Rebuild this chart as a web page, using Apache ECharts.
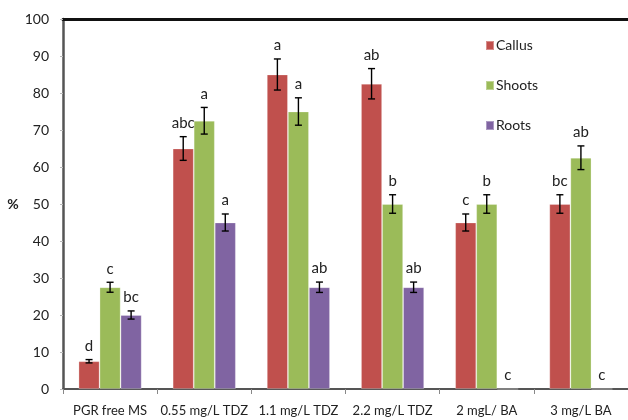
<!DOCTYPE html>
<html>
<head>
<meta charset="utf-8">
<script src="https://cdn.jsdelivr.net/npm/echarts@6/dist/echarts.min.js"></script>
<style>
  html, body { margin: 0; padding: 0; background: #fff; }
  #chart { width: 628px; height: 420px; }
</style>
</head>
<body>
<div id="chart"></div>
<script>
// Treatments on the category axis
const categories = ['PGR free MS', '0.55 mg/L TDZ', '1.1 mg/L TDZ', '2.2 mg/L TDZ', '2 mgL/ BA', '3 mg/L BA'];

// Mean response (%) per organ
const callus = [7.5, 65, 85, 82.5, 45, 50];
const shoots = [27.5, 72.5, 75, 50, 50, 62.5];
const roots  = [20, 45, 27.5, 27.5, 0, 0];

// Standard errors
const callusErr = [0.45, 3.2, 4.2, 4.1, 2.3, 2.5];
const shootsErr = [1.35, 3.6, 3.7, 2.5, 2.5, 3.2];
const rootsErr  = [1.1, 2.3, 1.4, 1.4, 0, 0];

// Significance letters
const callusSig = ['d', 'abc', 'a', 'ab', 'c', 'bc'];
const shootsSig = ['c', 'a', 'a', 'b', 'b', 'ab'];
const rootsSig  = ['bc', 'a', 'ab', 'ab', 'c', 'c'];

const yTicks = { min: 0, max: 100, interval: 10 };

const FONT = 'Lato';
const GAP_RATIO = 0.33;

const groups = [
  { name: 'Callus', color: '#C0504D', values: callus, errs: callusErr, sig: callusSig },
  { name: 'Shoots', color: '#9BBB59', values: shoots, errs: shootsErr, sig: shootsSig },
  { name: 'Roots',  color: '#8064A2', values: roots,  errs: rootsErr,  sig: rootsSig }
];

function errorRenderer(gi) {
  const g = groups[gi];
  return function (params, api) {
    const ci = api.value(0);
    const v = api.value(1);
    const e = api.value(2);
    const catW = api.size([1, 0])[0];
    const barW = catW * (1 - GAP_RATIO) / groups.length;
    const base = api.coord([ci, v]);
    const cx = base[0] + (gi - (groups.length - 1) / 2) * barW;
    const top = api.coord([ci, v + e])[1];
    const bot = api.coord([ci, v - e])[1];
    const children = [];
    if (e > 0) {
      const cap = 3.5;
      const ls = { stroke: '#000', lineWidth: 1.4 };
      children.push(
        { type: 'line', shape: { x1: cx, y1: top, x2: cx, y2: bot }, style: ls },
        { type: 'line', shape: { x1: cx - cap, y1: top, x2: cx + cap, y2: top }, style: ls },
        { type: 'line', shape: { x1: cx - cap, y1: bot, x2: cx + cap, y2: bot }, style: ls }
      );
    }
    children.push({
      type: 'text',
      style: {
        x: cx, y: top - 6,
        text: g.sig[params.dataIndex],
        fill: '#222',
        font: '15px ' + FONT,
        align: 'center',
        verticalAlign: 'bottom'
      }
    });
    return { type: 'group', children: children };
  };
}

const series = [];
groups.forEach(function (g) {
  series.push({
    name: g.name,
    type: 'bar',
    data: g.values,
    barGap: '0%',
    barCategoryGap: (GAP_RATIO * 100) + '%',
    itemStyle: { color: g.color, borderColor: 'rgba(255,255,255,0.35)', borderWidth: 0.8 },
    emphasis: { disabled: true }
  });
});
groups.forEach(function (g, gi) {
  series.push({
    name: g.name + ' SE',
    type: 'custom',
    renderItem: errorRenderer(gi),
    data: g.values.map(function (v, i) { return [i, v, g.errs[i]]; }),
    z: 5,
    silent: true
  });
});

const chart = echarts.init(document.getElementById('chart'), null, { renderer: 'canvas' });
chart.setOption({
  animation: false,
  backgroundColor: '#fff',
  textStyle: { fontFamily: FONT },
  grid: { left: 63, top: 19, width: 574, height: 370, containLabel: false },
  legend: {
    data: groups.map(function (g) { return g.name; }),
    orient: 'vertical',
    left: 480,
    top: 32,
    itemWidth: 8,
    itemHeight: 9,
    itemGap: 23,
    icon: 'rect',
    textStyle: { fontFamily: FONT, fontSize: 14, lineHeight: 17, color: '#222', padding: [0, 0, 0, -3] }
  },
  xAxis: [
    {
      type: 'category',
      data: categories,
      boundaryGap: true,
      axisLine: { lineStyle: { color: '#555', width: 2 } },
      axisTick: { show: true, length: 5, lineStyle: { color: '#888' } },
      axisLabel: { fontFamily: FONT, fontSize: 13, color: '#222', margin: 15, interval: 0 }
    },
    {
      type: 'category',
      data: categories,
      position: 'top',
      axisLine: { lineStyle: { color: '#111', width: 3 } },
      axisTick: { show: false },
      axisLabel: { show: false }
    }
  ],
  yAxis: {
    type: 'value',
    min: yTicks.min,
    max: yTicks.max,
    interval: yTicks.interval,
    name: '%',
    nameLocation: 'middle',
    nameRotate: 0,
    nameGap: 43,
    nameTextStyle: { fontFamily: FONT, fontSize: 14, fontWeight: 'bold', color: '#222' },
    axisLine: { show: true, lineStyle: { color: '#555', width: 2.5 } },
    axisTick: { show: true, length: 3, lineStyle: { color: '#bbb' } },
    axisLabel: { fontFamily: FONT, fontSize: 14, color: '#222', margin: 14 },
    splitLine: { show: false }
  },
  series: series
});
</script>
</body>
</html>
